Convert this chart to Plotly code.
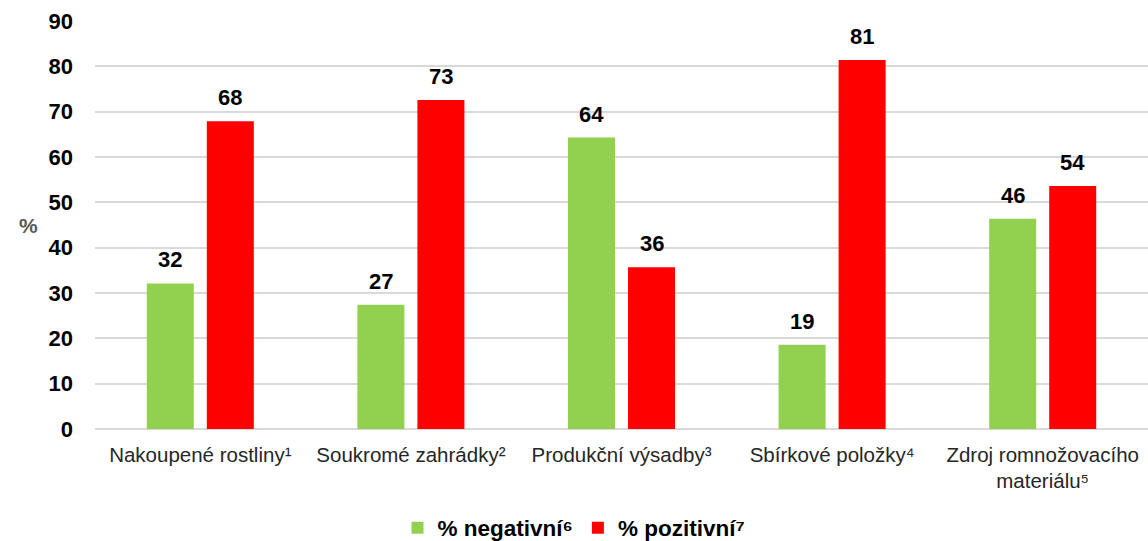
import plotly.graph_objects as go

categories = ["Nakoupené rostliny¹", "Soukromé zahrádky²", "Produkční výsadby³",
              "Sbírkové položky⁴", "Zdroj romnožovacího<br>materiálu⁵"]
negative = [32.1, 27.4, 64.3, 18.6, 46.4]
positive = [67.9, 72.6, 35.7, 81.4, 53.6]
series_names = ["% negativní⁶", "% pozitivní⁷"]
y_ticks = [0, 10, 20, 30, 40, 50, 60, 70, 80, 90]

W, H = 1148, 541
ml, mr, mt, mb = 95, 0, 21, 112
FONT = "Liberation Sans, Arial"

fig = go.Figure()
colors = ["#92D050", "#FF0000"]
for i, (name, vals) in enumerate([(series_names[0], negative), (series_names[1], positive)]):
    fig.add_trace(go.Bar(
        x=categories, y=vals, name=name,
        marker=dict(color=colors[i], line=dict(width=0)),
    ))
    for c, v in zip(categories, vals):
        fig.add_annotation(
            x=c, y=v, xref="x", yref="y", text=f"{v:.0f}", showarrow=False,
            xshift=-30 if i == 0 else 30, yshift=9, yanchor="bottom",
            font=dict(family=FONT, size=22, color="#000000", weight="bold"),
        )

fig.update_layout(
    width=W, height=H,
    margin=dict(l=ml, r=mr, t=mt, b=mb, autoexpand=False),
    paper_bgcolor="white", plot_bgcolor="white",
    barmode="group", bargap=0.43, bargroupgap=0.217,
    font=dict(family=FONT, color="#262626"),
    xaxis=dict(showgrid=False, showline=False, ticks="", automargin=False,
               ticklabelstandoff=11,
               tickfont=dict(family=FONT, size=20.5, color="#262626")),
    yaxis=dict(range=[0, 90], tickvals=y_ticks, showgrid=True, gridcolor="#D9D9D9",
               gridwidth=1.5, zeroline=True, zerolinecolor="#D9D9D9", zerolinewidth=1.5,
               showline=False, ticks="", ticklabelstandoff=21, automargin=False,
               tickfont=dict(family=FONT, size=22, color="#000000", weight="bold")),
    legend=dict(orientation="h", xref="container", x=0.5, xanchor="center",
                y=-0.19, yanchor="top",
                font=dict(family=FONT, size=22.5, color="#000000", weight="bold"),
                traceorder="normal"),
    showlegend=True,
)

fig.add_annotation(text="%", xref="paper", yref="paper",
                   x=(17 - ml) / (W - ml - mr), y=(H - mb - 225) / (H - mt - mb),
                   showarrow=False,
                   font=dict(family=FONT, size=21, color="#595959", weight="bold"))

fig.write_html("out.html", config={"displayModeBar": False},
               post_script="document.body.style.margin='0';")
